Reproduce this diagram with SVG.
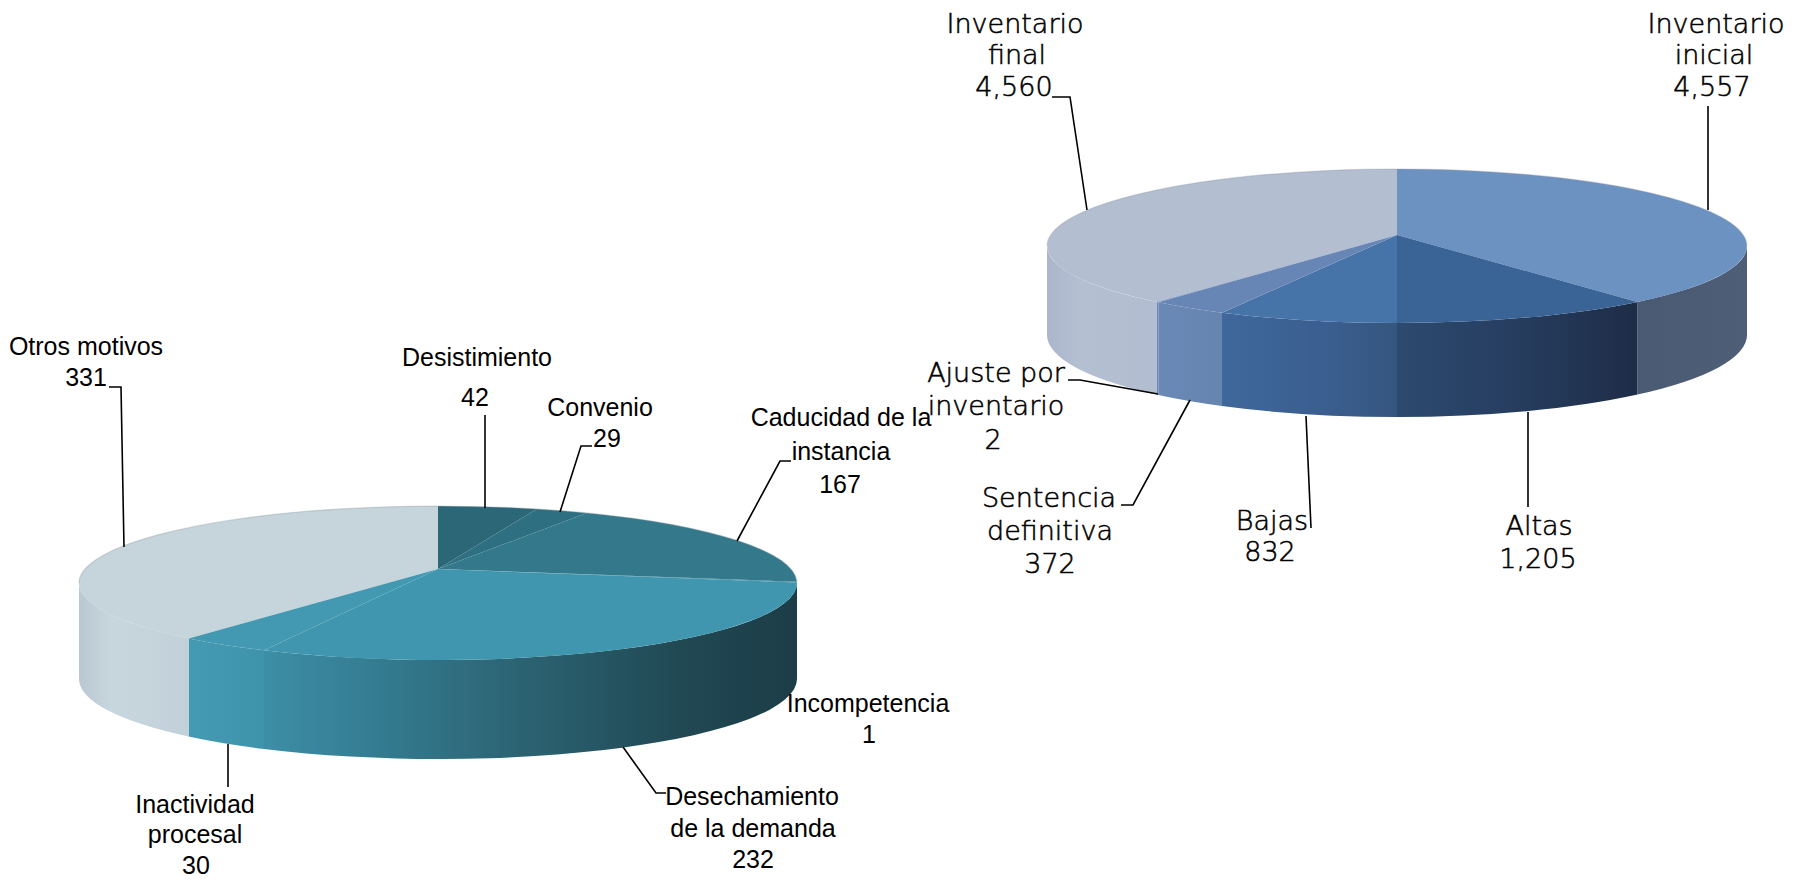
<svg xmlns="http://www.w3.org/2000/svg" width="1794" height="879" viewBox="0 0 1794 879">
<defs>
<style>
.lbl{font-family:"Liberation Sans",Arial,sans-serif;font-size:25px;fill:#000;text-anchor:middle}
.lbr{font-family:"DejaVu Sans","Liberation Sans",sans-serif;font-weight:300;font-size:27px;fill:#000;stroke:#000;stroke-width:0.55;text-anchor:middle}
.ld{fill:none;stroke:#000;stroke-width:1.6}
</style>
<linearGradient id="gDesech" gradientUnits="userSpaceOnUse" x1="264" y1="0" x2="797" y2="0">
<stop offset="0" stop-color="#3c8ea6"/><stop offset="0.22" stop-color="#347b90"/><stop offset="0.47" stop-color="#2c6474"/><stop offset="0.79" stop-color="#204853"/><stop offset="1" stop-color="#1c3d48"/>
</linearGradient>
<linearGradient id="gInact" gradientUnits="userSpaceOnUse" x1="188" y1="0" x2="264" y2="0">
<stop offset="0" stop-color="#439ab2"/><stop offset="1" stop-color="#3f94ac"/>
</linearGradient>
<linearGradient id="gOtros" gradientUnits="userSpaceOnUse" x1="79" y1="0" x2="188" y2="0">
<stop offset="0" stop-color="#b9c8d1"/><stop offset="0.3" stop-color="#c8d6de"/><stop offset="1" stop-color="#c2d1d9"/>
</linearGradient>
<linearGradient id="gFinal" gradientUnits="userSpaceOnUse" x1="1047" y1="0" x2="1157" y2="0">
<stop offset="0" stop-color="#abb6cb"/><stop offset="0.3" stop-color="#b5bfd2"/><stop offset="1" stop-color="#b3bdd1"/>
</linearGradient>
<linearGradient id="gSent" gradientUnits="userSpaceOnUse" x1="1157" y1="0" x2="1222" y2="0">
<stop offset="0" stop-color="#6a89b7"/><stop offset="1" stop-color="#6584ae"/>
</linearGradient>
<linearGradient id="gBajas" gradientUnits="userSpaceOnUse" x1="1222" y1="0" x2="1397" y2="0">
<stop offset="0" stop-color="#3f689c"/><stop offset="0.6" stop-color="#3a5e8e"/><stop offset="1" stop-color="#35567f"/>
</linearGradient>
<linearGradient id="gAltas" gradientUnits="userSpaceOnUse" x1="1397" y1="0" x2="1638" y2="0">
<stop offset="0" stop-color="#2c4a6f"/><stop offset="0.5" stop-color="#263d5f"/><stop offset="1" stop-color="#1e2c47"/>
</linearGradient>
<linearGradient id="gInic" gradientUnits="userSpaceOnUse" x1="1638" y1="0" x2="1747" y2="0">
<stop offset="0" stop-color="#4a5a72"/><stop offset="1" stop-color="#4e5e76"/>
</linearGradient>
</defs>
<rect width="1794" height="879" fill="#fff"/>

<g id="pie-left">
<path d="M797 583 A359 77 0 0 1 264 650.3 L264 749 A359 80 0 0 0 797 679 Z" fill="url(#gDesech)"/>
<path d="M264 650.3 A359 77 0 0 1 188.6 638.4 L188.6 736.5 A359 80 0 0 0 264 749 Z" fill="url(#gInact)"/>
<path d="M188.6 638.4 A359 77 0 0 1 79 583 L79 679 A359 80 0 0 0 188.6 736.5 Z" fill="url(#gOtros)"/>
<g id="slice-otros"><path d="M438 569 L188.6 638.4 A359 77 0 0 1 438 506 Z" fill="#c6d4dc"/></g>
<g id="slice-desistimiento"><path d="M438 569 L438 506 A359 77 0 0 1 536.9 509 Z" fill="#2b6776"/></g>
<g id="slice-convenio"><path d="M438 569 L536.9 509 A359 77 0 0 1 586.9 512.9 Z" fill="#2e7081"/></g>
<g id="slice-caducidad"><path d="M438 569 L586.9 512.9 A359 77 0 0 1 796.9 581.7 Z" fill="#33798b"/></g>
<g id="slice-incompetencia"><path d="M438 569 L796.9 581.7 A359 77 0 0 1 797 582.5 Z" fill="#3a8799"/></g>
<g id="slice-desechamiento"><path d="M438 569 L797 582.5 A359 77 0 0 1 264 650.3 Z" fill="#4096ae"/></g>
<g id="slice-inactividad"><path d="M438 569 L264 650.3 A359 77 0 0 1 188.6 638.4 Z" fill="#4399b1"/></g>
<path d="M79 583 A359 77 0 0 1 797 583" fill="none" stroke="#8c9aa3" stroke-opacity="0.35" stroke-width="1.2"/>
</g>

<g id="pie-right">
<path d="M1747 246 A350 77 0 0 1 1637.5 301.9 L1637.5 394.6 A350 82 0 0 0 1747 335 Z" fill="url(#gInic)"/>
<path d="M1637.5 301.9 A350 77 0 0 1 1397 323 L1397 417 A350 82 0 0 0 1637.5 394.6 Z" fill="url(#gAltas)"/>
<path d="M1397 323 A350 77 0 0 1 1222 312.7 L1222 406 A350 82 0 0 0 1397 417 Z" fill="url(#gBajas)"/>
<path d="M1222 312.7 A350 77 0 0 1 1158.3 302.3 L1158.3 395 A350 82 0 0 0 1222 406 Z" fill="url(#gSent)"/>
<path d="M1158.3 302.3 A350 77 0 0 1 1157 302 L1157 394.7 A350 82 0 0 0 1158.3 395 Z" fill="#6b8ab8"/>
<path d="M1157 302 A350 77 0 0 1 1047 246 L1047 335 A350 82 0 0 0 1157 394.7 Z" fill="url(#gFinal)"/>
<g id="slice-final"><path d="M1397 235 L1157 302 A350 77 0 0 1 1397 169 Z" fill="#b4bed1"/></g>
<g id="slice-inicial"><path d="M1397 235 L1397 169 A350 77 0 0 1 1637.5 301.9 Z" fill="#6b92c0"/></g>
<g id="slice-altas"><path d="M1397 235 L1637.5 301.9 A350 77 0 0 1 1397 323 Z" fill="#3a6396"/></g>
<g id="slice-bajas"><path d="M1397 235 L1397 323 A350 77 0 0 1 1222 312.7 Z" fill="#4674a9"/></g>
<g id="slice-sentencia"><path d="M1397 235 L1222 312.7 A350 77 0 0 1 1158.3 302.3 Z" fill="#6886b5"/></g>
<g id="slice-ajuste"><path d="M1397 235 L1158.3 302.3 A350 77 0 0 1 1157 302 Z" fill="#6a88b6"/></g>
<path d="M1047 246 A350 77 0 0 1 1747 246" fill="none" stroke="#8a93a6" stroke-opacity="0.35" stroke-width="1.2"/>
</g>

<g id="connectors">
<path class="ld" d="M109 387 H121 L124 547"/>
<path class="ld" d="M485 415 V508"/>
<path class="ld" d="M592 446 H581 L560 512"/>
<path class="ld" d="M791 461 H780 L737 541"/>
<path class="ld" d="M623 747 L656 793 H666"/>
<path class="ld" d="M228 744 V787"/>
<path class="ld" d="M1052 97 H1070 L1087 210"/>
<path class="ld" d="M1708 106 V210"/>
<path class="ld" d="M1068 380 H1080 L1158 394"/>
<path class="ld" d="M1121 505 H1133 L1190 400"/>
<path class="ld" d="M1306 416 L1311 528"/>
<path class="ld" d="M1528 412 V507"/>
</g>

<g id="label-otros"><text class="lbl" x="86" y="355">Otros motivos</text><text class="lbl" x="86" y="386">331</text></g>
<g id="label-desistimiento"><text class="lbl" x="477" y="366">Desistimiento</text><text class="lbl" x="475" y="406">42</text></g>
<g id="label-convenio"><text class="lbl" x="600" y="416">Convenio</text><text class="lbl" x="607" y="447">29</text></g>
<g id="label-caducidad"><text class="lbl" x="841" y="426">Caducidad de la</text><text class="lbl" x="841" y="460">instancia</text><text class="lbl" x="840" y="493">167</text></g>
<g id="label-incompetencia"><text class="lbl" x="868" y="712">Incompetencia</text><text class="lbl" x="869" y="743">1</text></g>
<g id="label-desechamiento"><text class="lbl" x="752" y="805">Desechamiento</text><text class="lbl" x="753" y="837">de la demanda</text><text class="lbl" x="753" y="868">232</text></g>
<g id="label-inactividad"><text class="lbl" x="195" y="813">Inactividad</text><text class="lbl" x="195" y="843">procesal</text><text class="lbl" x="196" y="874">30</text></g>

<g id="label-final"><text class="lbr" x="1015" y="33">Inventario</text><text class="lbr" x="1017" y="64">final</text><text class="lbr" x="1014" y="96">4,560</text></g>
<g id="label-inicial"><text class="lbr" x="1716" y="33">Inventario</text><text class="lbr" x="1714" y="64">inicial</text><text class="lbr" x="1712" y="96">4,557</text></g>
<g id="label-ajuste"><text class="lbr" x="996" y="382">Ajuste por</text><text class="lbr" x="996" y="415">inventario</text><text class="lbr" x="993" y="449">2</text></g>
<g id="label-sentencia"><text class="lbr" x="1049" y="507">Sentencia</text><text class="lbr" x="1050" y="540">definitiva</text><text class="lbr" x="1050" y="573">372</text></g>
<g id="label-bajas"><text class="lbr" x="1272" y="530">Bajas</text><text class="lbr" x="1270" y="561">832</text></g>
<g id="label-altas"><text class="lbr" x="1539" y="535">Altas</text><text class="lbr" x="1538" y="568">1,205</text></g>
</svg>
